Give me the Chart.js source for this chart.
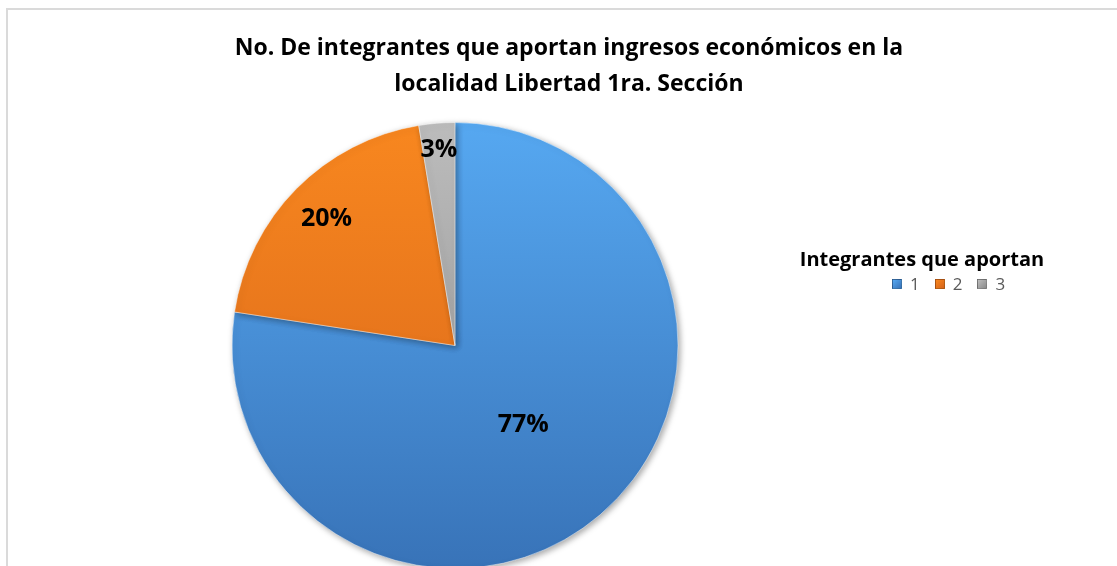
<!DOCTYPE html>
<html lang="es">
<head>
    <meta charset="UTF-8">
    <title>Integrantes que aportan ingresos</title>
    <script src="https://cdn.jsdelivr.net/npm/chart.js"></script>
    <style>
        html, body {
            margin: 0;
            padding: 0;
            width: 1117px;
            height: 566px;
            overflow: hidden;
            background: #ffffff;
            font-family: "Open Sans", Lato, sans-serif;
        }
        .marco {
            position: absolute;
            left: 6px;
            top: 8px;
            width: 1200px;
            height: 700px;
            border: 2px solid #dadada;
        }
        .titulo {
            position: absolute;
            left: 0;
            top: 28px;
            width: 1138px;
            text-align: center;
            font-weight: bold;
            font-size: 23px;
            line-height: 36px;
            color: #000;
        }
        .leyenda {
            position: absolute;
            left: 722px;
            top: 245px;
            width: 400px;
            text-align: center;
            color: #000;
        }
        .leyenda .tit {
            font-weight: bold;
            font-size: 20px;
            line-height: 28px;
        }
        .leyenda .items {
            display: flex;
            justify-content: flex-start;
            padding-left: 170px;
            gap: 15px;
            font-size: 17px;
            line-height: 22px;
            color: #595959;
        }
        .leyenda .items span.item {
            display: flex;
            align-items: center;
        }
        .leyenda .items span.cuadro {
            display: inline-block;
            width: 8px;
            height: 8px;
            margin-right: 8px;
            border: 1px solid rgba(0,0,0,0.25);
        }
        #grafico {
            position: absolute;
            left: 0;
            top: 0;
        }
    </style>
</head>
<body>
    <div class="marco"></div>
    <canvas id="grafico" width="1117" height="620"></canvas>
    <div class="titulo">No. De integrantes que aportan ingresos económicos en la<br>localidad Libertad 1ra. Sección</div>
    <div class="leyenda">
        <div class="tit">Integrantes que aportan</div>
        <div class="items" id="items"></div>
    </div>

    <script>
        const categorias = ["1", "2", "3"];
        const porcentajes = [77.4, 20.0, 2.6];
        const coloresArriba = ["#56a8f1", "#f8871f", "#bcbcbc"];
        const coloresAbajo = ["#3873b8", "#d6641a", "#8c8c8c"];

        // leyenda en HTML
        const items = document.getElementById("items");
        categorias.forEach((c, i) => {
            const s = document.createElement("span");
            s.className = "item";
            s.innerHTML = '<span class="cuadro" style="background:linear-gradient(135deg,' +
                coloresArriba[i] + ',' + coloresAbajo[i] + ')"></span>' + c;
            items.appendChild(s);
        });

        function degradado(context) {
            const chart = context.chart;
            const area = chart.chartArea;
            if (!area) return coloresArriba[context.dataIndex];
            const g = chart.ctx.createLinearGradient(0, area.top, 0, area.bottom);
            g.addColorStop(0, coloresArriba[context.dataIndex]);
            g.addColorStop(1, coloresAbajo[context.dataIndex]);
            return g;
        }

        // etiquetas de porcentaje dentro de cada sector
        const posEtiqueta = [0.47, 0.81, 0.88];
        const etiquetas = {
            id: "etiquetas",
            afterDatasetsDraw(chart) {
                const ctx = chart.ctx;
                const meta = chart.getDatasetMeta(0);
                ctx.save();
                ctx.font = "bold 25px 'Open Sans', Lato, sans-serif";
                ctx.fillStyle = "#000";
                ctx.textAlign = "center";
                ctx.textBaseline = "middle";
                meta.data.forEach((arc, i) => {
                    const p = arc.getProps(["x", "y", "startAngle", "endAngle", "outerRadius"], true);
                    const a = (p.startAngle + p.endAngle) / 2;
                    const r = p.outerRadius * posEtiqueta[i];
                    ctx.fillText(Math.round(porcentajes[i]) + "%", p.x + Math.cos(a) * r, p.y + Math.sin(a) * r);
                });
                ctx.restore();
            }
        };

        const sombra = {
            id: "sombra",
            beforeDatasetDraw(chart) {
                chart.ctx.save();
                chart.ctx.shadowColor = "rgba(0,0,0,0.35)";
                chart.ctx.shadowBlur = 6;
                chart.ctx.shadowOffsetX = 2;
                chart.ctx.shadowOffsetY = 2;
            },
            afterDatasetDraw(chart) {
                chart.ctx.restore();
            }
        };

        new Chart(document.getElementById("grafico").getContext("2d"), {
            type: "pie",
            data: {
                labels: categorias,
                datasets: [{
                    data: porcentajes,
                    backgroundColor: degradado,
                    borderColor: "rgba(255,255,255,0.45)",
                    borderWidth: 1
                }]
            },
            options: {
                responsive: false,
                animation: false,
                layout: {
                    padding: { left: 0, right: 207, top: 122, bottom: 51 }
                },
                plugins: {
                    legend: { display: false },
                    title: { display: false },
                    tooltip: { enabled: false }
                }
            },
            plugins: [sombra, etiquetas]
        });
    </script>
</body>
</html>
